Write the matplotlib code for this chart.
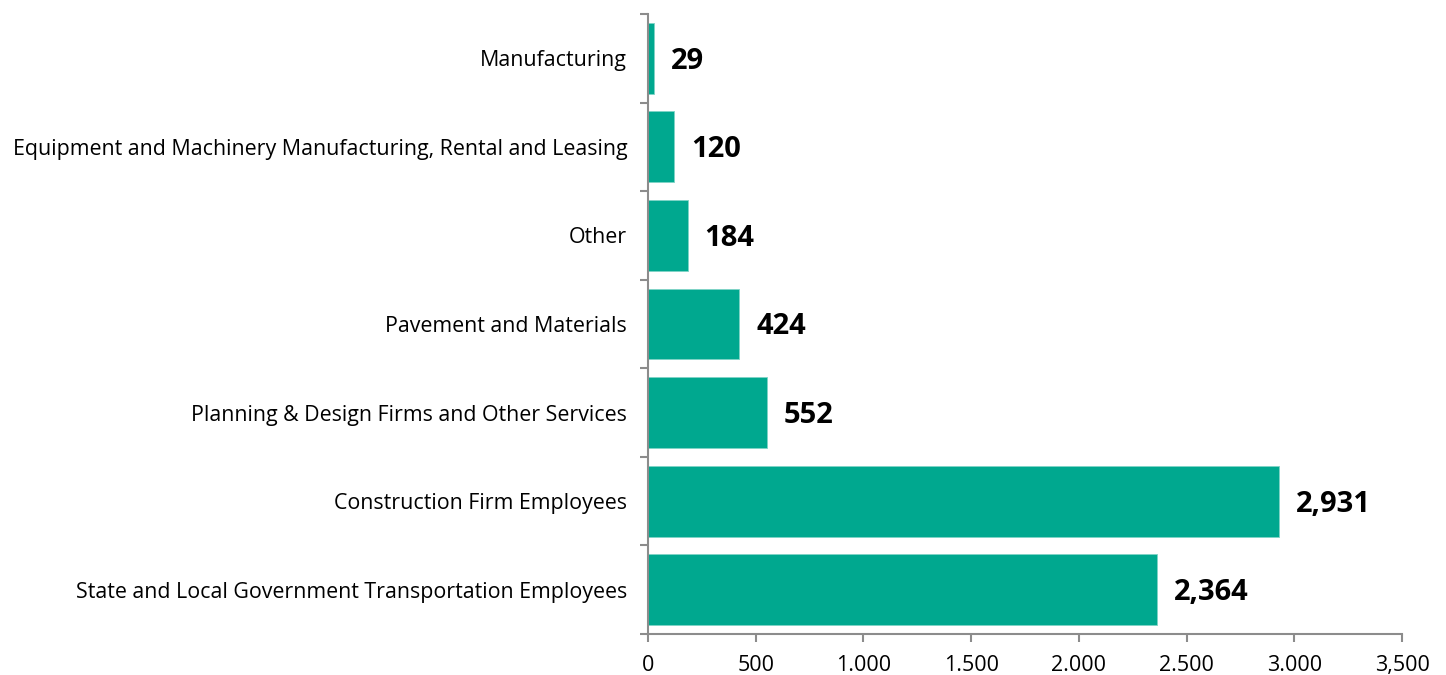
import matplotlib
matplotlib.use("Agg")
import matplotlib.pyplot as plt
import numpy as np

categories = [
    "Manufacturing",
    "Equipment and Machinery Manufacturing, Rental and Leasing",
    "Other",
    "Pavement and Materials",
    "Planning & Design Firms and Other Services",
    "Construction Firm Employees",
    "State and Local Government Transportation Employees",
]
values = [29, 120, 184, 424, 552, 2931, 2364]
value_labels = ["29", "120", "184", "424", "552", "2,931", "2,364"]
xtick_values = [0, 500, 1000, 1500, 2000, 2500, 3000, 3500]
xtick_labels = ["0", "500", "1.000", "1.500", "2.000", "2.500", "3.000", "3,500"]

plt.rcParams['font.family'] = ['Open Sans', 'DejaVu Sans']

fig = plt.figure(figsize=(14.46, 6.75), dpi=100)
ax = fig.add_axes([648/1446, 1-634/675, (1402-648)/1446, (634-14)/675])

n = len(categories)
ypos = np.arange(n)[::-1]
color = "#00A88F"
ax.barh(ypos, values, height=0.8, color=color, edgecolor="#7fd3c6", linewidth=0.6)

for y, v, lab in zip(ypos, values, value_labels):
    ax.annotate(lab, xy=(v, y), xytext=(17, -3), textcoords="offset pixels",
                va="center", ha="left", fontsize=21, fontweight="bold", color="black")

ax.set_xlim(0, 3500)
ax.set_ylim(-0.5, n - 0.5)
ax.set_xticks(xtick_values)
ax.set_xticklabels(xtick_labels, fontsize=15.5)
ax.set_yticks(ypos)
ax.set_yticklabels(categories, fontsize=15.4)
ax.set_yticks(np.arange(-0.5, n, 1.0), minor=True)

ax.tick_params(axis="y", which="major", length=0, pad=15)
ax.tick_params(axis="y", which="minor", length=6, width=1.5, color="#8c8c8c")
ax.tick_params(axis="x", which="major", length=6, width=1.5, color="#8c8c8c", pad=9)

for s in ["top", "right"]:
    ax.spines[s].set_visible(False)
for s in ["left", "bottom"]:
    ax.spines[s].set_color("#8c8c8c")
    ax.spines[s].set_linewidth(1.5)

fig.savefig("out.png", dpi=100)
